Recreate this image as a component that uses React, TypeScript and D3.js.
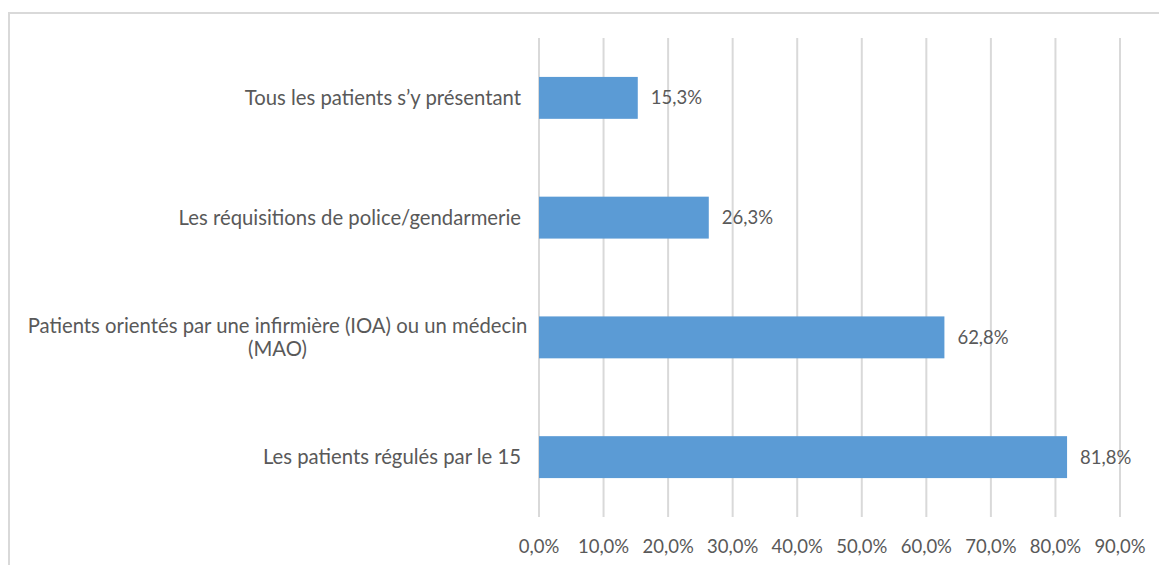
import React from "react";
import * as d3 from "d3";

const categories: string[][] = [
  ["Tous les patients s\u2019y présentant"],
  ["Les réquisitions de police/gendarmerie"],
  ["Patients orientés par une infirmière (IOA) ou un médecin", "(MAO)"],
  ["Les patients régulés par le 15"],
];
const values: number[] = [15.3, 26.3, 62.8, 81.8];
const ticks: number[] = [0, 10, 20, 30, 40, 50, 60, 70, 80, 90];

const W = 1159;
const H = 565;
const FONT = "Lato, 'Open Sans', sans-serif";
const TEXT = "#595959";
const GRID = "#d9d9d9";
const BAR = "#5B9BD5";

const fmt = (v: number) => v.toFixed(1).replace(".", ",") + "%";

export default function App() {
  const x = d3.scaleLinear().domain([0, 90]).range([539, 1120]);
  const y = d3
    .scaleBand<number>()
    .domain(d3.range(categories.length))
    .range([38, 517])
    .paddingInner(0.65)
    .paddingOuter(0.325);
  const fs = 18.5;
  const fsCat = 20.3;
  return (
    <svg
      width={W}
      height={H}
      style={{ position: "absolute", left: 0, top: 0, background: "#fff" }}
      fontFamily={FONT}
    >
      <rect x={9} y={13} width={W + 20} height={H + 20} fill="#fff" stroke={GRID} strokeWidth={2} />
      {ticks.map((t) => (
        <line key={t} x1={x(t)} x2={x(t)} y1={38} y2={517} stroke={GRID} strokeWidth={2} />
      ))}
      {values.map((v, i) => {
        const by = y(i)!;
        const bh = y.bandwidth();
        const cy = by + bh / 2;
        const lines = categories[i];
        const lh = 23;
        return (
          <g key={i}>
            <rect x={x(0)} y={by} width={x(v) - x(0)} height={bh} fill={BAR} />
            <text x={x(v) + 13} y={cy} dy="0.35em" fontSize={fs} fill={TEXT}>
              {fmt(v)}
            </text>
            {lines.length === 1 ? (
              <text x={521} y={cy} dy="0.35em" fontSize={fsCat} fill={TEXT} textAnchor="end">
                {lines[0]}
              </text>
            ) : (
              lines.map((l, j) => (
                <text
                  key={j}
                  x={277.5}
                  y={cy + (j - (lines.length - 1) / 2) * lh}
                  dy="0.35em"
                  fontSize={fsCat}
                  fill={TEXT}
                  textAnchor="middle"
                >
                  {l}
                </text>
              ))
            )}
          </g>
        );
      })}
      {ticks.map((t) => (
        <text key={t} x={x(t)} y={547} dy="0.35em" fontSize={fs} fill={TEXT} textAnchor="middle">
          {fmt(t)}
        </text>
      ))}
    </svg>
  );
}
